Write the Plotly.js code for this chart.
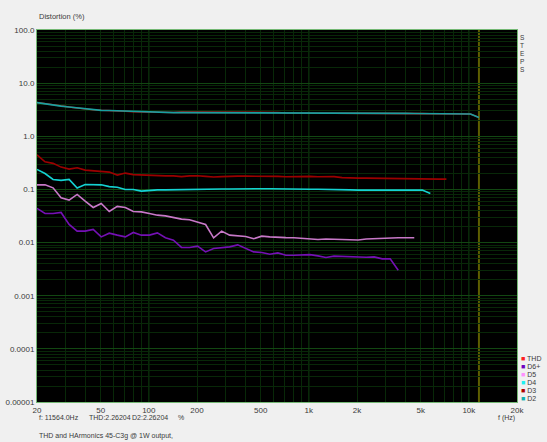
<!DOCTYPE html>
<html>
<head>
<meta charset="utf-8">
<script src="https://cdn.plot.ly/plotly-3.0.1.min.js"></script>
<style>
  html, body { margin: 0; padding: 0; background: #f0f0f0; }
  #chart { width: 547px; height: 442px; }
</style>
</head>
<body>
<div id="chart"></div>
<script>
// 1/6 octave sweep frequencies (Hz)
const freqHz = [
  20, 22.45, 25.2, 28.28, 31.75, 35.64, 40, 44.9,
  50.4, 56.57, 63.5, 71.27, 80, 89.8, 100.8, 113.1,
  127, 142.5, 160, 179.6, 201.6, 226.3, 254, 285.1,
  320, 359.2, 403.2, 452.5, 508, 570.2, 640, 718.4,
  806.3, 905.1, 1016, 1140, 1280, 1437, 1613, 1810,
  2032, 2281, 2560, 2874, 3225, 3620, 4064, 4561,
  5120, 5747, 6451, 7241, 8127, 9123, 10240, 11564
];

// distortion, %
const thd = [
  4.33, 4.09, 3.88, 3.71, 3.56, 3.41, 3.26, 3.15,
  3.08, 3.06, 3.02, 2.95, 2.90, 2.87, 2.83, 2.81,
  2.80, 2.80, 2.85, 2.85, 2.79, 2.79, 2.79, 2.79,
  2.79, 2.79, 2.78, 2.78, 2.78, 2.82, 2.81, 2.75,
  2.75, 2.75, 2.74, 2.74, 2.74, 2.74, 2.74, 2.73,
  2.73, 2.73, 2.73, 2.73, 2.73, 2.72, 2.71, 2.69,
  2.67, 2.66, 2.66, 2.66, 2.65, 2.65, 2.63, 2.27
];
const d2 = [
  4.31, 4.07, 3.87, 3.70, 3.55, 3.40, 3.25, 3.14,
  3.07, 3.05, 3.01, 2.94, 2.89, 2.86, 2.82, 2.80,
  2.79, 2.79, 2.79, 2.79, 2.78, 2.78, 2.78, 2.78,
  2.78, 2.78, 2.77, 2.77, 2.77, 2.76, 2.75, 2.74,
  2.74, 2.74, 2.73, 2.73, 2.73, 2.73, 2.73, 2.72,
  2.72, 2.72, 2.72, 2.72, 2.72, 2.71, 2.70, 2.68,
  2.66, 2.65, 2.65, 2.65, 2.64, 2.64, 2.62, 2.26
];
const d3 = [
  0.448, 0.331, 0.309, 0.263, 0.241, 0.255, 0.231, 0.226,
  0.221, 0.212, 0.186, 0.203, 0.190, 0.186, 0.184, 0.184,
  0.180, 0.180, 0.174, 0.180, 0.181, 0.176, 0.171, 0.174,
  0.178, 0.178, 0.178, 0.178, 0.179, 0.178, 0.176, 0.173,
  0.174, 0.178, 0.176, 0.173, 0.173, 0.174, 0.167, 0.163,
  0.163, 0.163, 0.162, 0.161, 0.161, 0.160, 0.156, 0.154,
  0.154, 0.154, 0.156, 0.156
];
const d4 = [
  0.238, 0.199, 0.154, 0.148, 0.154, 0.106, 0.124, 0.124,
  0.122, 0.113, 0.110, 0.100, 0.100, 0.093, 0.097, 0.098,
  0.098, 0.099, 0.099, 0.100, 0.100, 0.101, 0.102, 0.102,
  0.102, 0.103, 0.103, 0.103, 0.103, 0.103, 0.102, 0.102,
  0.101, 0.101, 0.101, 0.101, 0.101, 0.100, 0.099, 0.098,
  0.097, 0.097, 0.097, 0.097, 0.097, 0.097, 0.097, 0.097,
  0.097, 0.084
];
const d5 = [
  0.122, 0.122, 0.107, 0.0695, 0.0629, 0.0805, 0.0602, 0.0458,
  0.0545, 0.0385, 0.0479, 0.0458, 0.0385, 0.0378, 0.0353, 0.0328,
  0.0318, 0.0292, 0.0276, 0.0268, 0.0242, 0.0219, 0.0123, 0.0164,
  0.0138, 0.0132, 0.0130, 0.0118, 0.0132, 0.0128, 0.0128, 0.0124,
  0.0123, 0.0121, 0.0117, 0.0114, 0.0117, 0.0116, 0.0116, 0.0114,
  0.0112, 0.0117, 0.0119, 0.0119, 0.0121, 0.0123, 0.0123, 0.0123
];
const d6plus = [
  0.0439, 0.0353, 0.0353, 0.0369, 0.0219, 0.0164, 0.0164, 0.0177,
  0.0128, 0.0150, 0.0138, 0.0128, 0.0155, 0.0138, 0.0138, 0.0152,
  0.0123, 0.0111, 0.00809, 0.00809, 0.00855, 0.00668, 0.00774, 0.00809,
  0.00830, 0.00906, 0.00774, 0.00668, 0.00651, 0.00605, 0.00640, 0.00579,
  0.00579, 0.00579, 0.00592, 0.00562, 0.00524, 0.00555, 0.00548, 0.00538,
  0.00524, 0.00530, 0.00538, 0.00493, 0.00493, 0.00302
];

const xTickVals = [20, 50, 100, 200, 500, 1000, 2000, 5000, 10000, 20000];
const xTickText = ['20', '50', '100', '200', '500', '1k', '2k', '5k', '10k', '20k'];
const yTickVals = [100, 10, 1, 0.1, 0.01, 0.001, 0.0001, 0.00001];
const yTickText = ['100.0', '10.0', '1.0', '0.1', '0.01', '0.001', '0.0001', '0.00001'];
const decadeHz = [100, 1000, 10000];
const cursorHz = 11564;

// legend order as in the analyser window (top to bottom)
const seriesNames = ['THD', 'D6+', 'D5', 'D4', 'D3', 'D2'];
const seriesData = [thd, d6plus, d5, d4, d3, d2];
const lineColors = ['#b81818', '#7410b4', '#c878c8', '#14d2d2', '#9c0000', '#18a0a0'];
const keyColors = ['#ff2020', '#7000c0', '#ff90ff', '#20f0f0', '#b00000', '#10b0b0'];

const FONT = 'Liberation Sans, Arial, sans-serif';
const TXT = '#3a3a3a';
const GRID_DIM = '#082808';
const GRID_MAJ = '#124712';

const traces = seriesNames.map((name, i) => ({
  x: freqHz.slice(0, seriesData[i].length),
  y: seriesData[i],
  name: name,
  type: 'scatter',
  mode: 'lines',
  line: {color: lineColors[i], width: 1.6},
  showlegend: false,
  hoverinfo: 'skip'
}));

const small = {family: FONT, size: 7, color: TXT};
const note = (text, x, y, xa, ya, font) => ({
  text: text, xref: 'paper', yref: 'paper', x: x, y: y,
  xanchor: xa, yanchor: ya, showarrow: false, font: font || small
});

const annotations = [
  note('Distortion (%)', 0, 1.02, 'left', 'bottom', {family: FONT, size: 7.5, color: TXT}),
  note('f (Hz)', 1, -0.028, 'right', 'top'),
  note('f: 11564.0Hz', 0, -0.028, 'left', 'top'),
  note('THD:2.26204', 0.104, -0.028, 'left', 'top'),
  note('D2:2.26204', 0.193, -0.028, 'left', 'top'),
  note('%', 0.29, -0.028, 'left', 'top'),
  note('THD and HArmonics 45-C3g @ 1W output,', 0, -0.075, 'left', 'top')
];

// "STEPS" written vertically to the right of the plot
'STEPS'.split('').forEach((ch, k) => {
  annotations.push(note(ch, 1.003, 0.995 - k * 0.0215, 'left', 'top',
    {family: FONT, size: 6.5, color: TXT}));
});

// legend keys
seriesNames.forEach((name, i) => {
  annotations.push(note('<span style="color:' + keyColors[i] + '">■</span> ' + name,
    1.004, 0.118 - i * 0.0215, 'left', 'middle'));
});

const shapes = decadeHz.map(f => ({
  type: 'line', xref: 'x', yref: 'paper', x0: f, x1: f, y0: 0, y1: 1,
  layer: 'below', line: {color: GRID_MAJ, width: 1}
}));
shapes.push({
  type: 'line', xref: 'x', yref: 'paper', x0: cursorHz, x1: cursorHz, y0: 0, y1: 1,
  layer: 'below', line: {color: '#5e5e00', width: 2}
});

const layout = {
  width: 547,
  height: 442,
  paper_bgcolor: '#f0f0f0',
  plot_bgcolor: '#000000',
  margin: {l: 37, r: 30, t: 30, b: 40},
  font: {family: FONT, size: 8, color: TXT},
  xaxis: {
    type: 'log',
    range: [Math.log10(20), Math.log10(20000)],
    tickmode: 'array', tickvals: xTickVals, ticktext: xTickText,
    ticks: '', showgrid: true, gridcolor: GRID_DIM, gridwidth: 1,
    minor: {dtick: 'D1', showgrid: true, gridcolor: GRID_DIM, ticks: ''},
    showline: true, linecolor: '#74b874', linewidth: 1, mirror: true,
    zeroline: false, tickfont: {family: FONT, size: 8, color: TXT}
  },
  yaxis: {
    type: 'log',
    range: [-5, 2],
    tickmode: 'array', tickvals: yTickVals, ticktext: yTickText,
    ticks: '', showgrid: true, gridcolor: GRID_MAJ, gridwidth: 1,
    minor: {dtick: 'D1', showgrid: true, gridcolor: GRID_DIM, ticks: ''},
    showline: true, linecolor: '#74b874', linewidth: 1, mirror: true,
    zeroline: false, tickfont: {family: FONT, size: 8, color: TXT}
  },
  annotations: annotations,
  shapes: shapes,
  showlegend: false
};

Plotly.newPlot('chart', traces, layout, {displayModeBar: false, staticPlot: true});
</script>
</body>
</html>
